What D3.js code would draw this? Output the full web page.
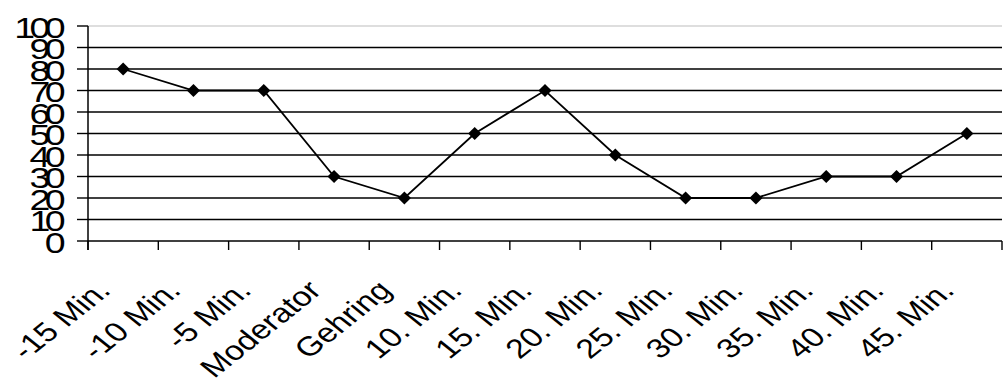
<!DOCTYPE html>
<html>
<head>
<meta charset="utf-8">
<script src="https://cdn.jsdelivr.net/npm/d3@7"></script>
<style>
  html, body { margin: 0; padding: 0; background: #fff; }
  text { font-family: Arial, "Liberation Sans", sans-serif; fill: #000; }
</style>
</head>
<body>
<svg id="chart" width="1007" height="388"></svg>
<script>
// categories and values
const categories = ["-15 Min.", "-10 Min.", "-5 Min.", "Moderator", "Gehring", "10. Min.",
  "15. Min.", "20. Min.", "25. Min.", "30. Min.", "35. Min.", "40. Min.", "45. Min."];
const values = [80, 70, 70, 30, 20, 50, 70, 40, 20, 20, 30, 30, 50];
const yTicks = [0, 10, 20, 30, 40, 50, 60, 70, 80, 90, 100];

const svg = d3.select("#chart");
const plotLeft = 88, plotRight = 1002, plotTop = 26, plotBottom = 241;
const stretch = 1.25; // text in the picture is wider than tall

const x = d3.scaleBand().domain(categories).range([plotLeft, plotRight]);
const y = d3.scaleLinear().domain([0, 100]).range([plotBottom, plotTop]);

// gridlines
svg.append("g").selectAll("line")
  .data(yTicks.filter(d => d > 0))
  .join("line")
  .attr("x1", plotLeft).attr("x2", plotRight)
  .attr("y1", d => y(d)).attr("y2", d => y(d))
  .attr("stroke", d => d === 100 ? "#bdbdbd" : "#000")
  .attr("stroke-width", d => d === 100 ? 1 : 1.4);

// y axis
svg.append("line")
  .attr("x1", plotLeft).attr("x2", plotLeft)
  .attr("y1", plotTop).attr("y2", plotBottom + 9)
  .attr("stroke", "#000").attr("stroke-width", 1.5);

svg.append("g").selectAll("line")
  .data(yTicks)
  .join("line")
  .attr("x1", plotLeft - 11).attr("x2", plotLeft)
  .attr("y1", d => y(d)).attr("y2", d => y(d))
  .attr("stroke", "#000").attr("stroke-width", 1.4);

// labels in the picture are big but tightly packed
svg.append("g").selectAll("text")
  .data(yTicks)
  .join("text")
  .attr("transform", d => `translate(60,${y(d) + 1}) scale(${stretch},1)`)
  .attr("text-anchor", "end")
  .attr("dominant-baseline", "central")
  .attr("font-size", 30)
  .attr("letter-spacing", -4.5)
  .text(d => d);

// x axis
svg.append("line")
  .attr("x1", plotLeft).attr("x2", plotRight)
  .attr("y1", plotBottom).attr("y2", plotBottom)
  .attr("stroke", "#000").attr("stroke-width", 1.5);

const tickXs = categories.map(c => x(c)).concat([plotRight]);
svg.append("g").selectAll("line")
  .data(tickXs)
  .join("line")
  .attr("x1", d => d).attr("x2", d => d)
  .attr("y1", plotBottom).attr("y2", plotBottom + 9)
  .attr("stroke", "#000").attr("stroke-width", 1.4);

svg.append("g").selectAll("text")
  .data(categories)
  .join("text")
  .attr("transform", d => `translate(${x(d) + x.bandwidth() / 2 - 11},292) scale(${stretch},1) rotate(-45)`)
  .attr("text-anchor", "end")
  .attr("font-size", 27)
  .text(d => d);

// line + markers
const line = d3.line()
  .x((d, i) => x(categories[i]) + x.bandwidth() / 2)
  .y(d => y(d));

svg.append("path")
  .datum(values)
  .attr("d", line)
  .attr("fill", "none")
  .attr("stroke", "#000")
  .attr("stroke-width", 1.8);

const diamond = d3.symbol().type(d3.symbolDiamond2).size(110);
svg.append("g").selectAll("path")
  .data(values)
  .join("path")
  .attr("transform", (d, i) => `translate(${x(categories[i]) + x.bandwidth() / 2},${y(d)})`)
  .attr("d", diamond)
  .attr("fill", "#000");
</script>
</body>
</html>
